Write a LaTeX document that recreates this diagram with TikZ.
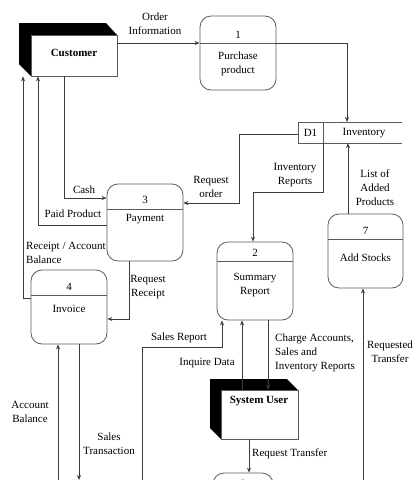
\documentclass[tikz,border=0pt]{standalone}
\usepackage{fontspec}
\setmainfont{Liberation Serif}
\usetikzlibrary{arrows.meta,calc}
\definecolor{linec}{HTML}{3C3C3C}
\definecolor{boxc}{HTML}{5A5A5A}
\begin{document}
\begin{tikzpicture}[x=1pt,y=-1pt,
  line/.style={draw=linec, line width=0.7pt},
  arr/.style={line, -{Stealth[length=5pt,width=4pt]}},
  proc/.style={draw=boxc, line width=0.8pt, rounded corners=11pt, inner sep=0pt},
  ent/.style={draw=boxc, line width=0.7pt, fill=white, inner sep=0pt},
  divline/.style={draw=boxc, line width=0.8pt},
  lbl/.style={font=\fontsize{11}{14}\selectfont, align=center, inner sep=0pt}]
\useasboundingbox (0,0) rectangle (414,480);

% ---------- external entities ----------
\fill[black] (19,23) -- (106,23) -- (117,35) -- (31,35) -- (31,76) -- (19,64) -- cycle;
\node[ent, minimum width=86pt, minimum height=41pt] (cust) at (74,55.5) {};
\node[lbl] (custt) at (74,53) {\textbf{Customer}};

\fill[black] (210,379) -- (287,379) -- (298,390) -- (221,390) -- (221,439) -- (210,428) -- cycle;
\node[ent, minimum width=77pt, minimum height=49pt] (user) at (259.5,414.5) {};
\node[lbl] (usert) at (259,401) {\textbf{System User}};

% ---------- processes ----------
\node[proc, minimum width=76pt, minimum height=74pt] (p1) at (238,53) {};
\draw[divline] (200,43) -- (276,43);
\node[lbl] (p1n) at (238,35) {1};
\node[lbl] (p1t) at (238,64) {Purchase\\product};

\node[proc, minimum width=76pt, minimum height=78pt] (p2) at (255,281) {};
\draw[divline] (217,261) -- (293,261);
\node[lbl] (p2n) at (255,253) {2};
\node[lbl] (p2t) at (255,285.5) {Summary\\Report};

\node[proc, minimum width=76pt, minimum height=77pt] (p3) at (145,222.5) {};
\draw[divline] (107,209) -- (183,209);
\node[lbl] (p3n) at (145,200) {3};
\node[lbl] (p3t) at (145,219) {Payment};

\node[proc, minimum width=76pt, minimum height=74pt] (p4) at (69,307) {};
\draw[divline] (31,295) -- (107,295);
\node[lbl] (p4n) at (69,287) {4};
\node[lbl] (p4t) at (69,309) {Invoice};

\node[proc, minimum width=75pt, minimum height=74pt] (p7) at (365.5,251) {};
\draw[divline] (328,239) -- (403,239);
\node[lbl] (p7n) at (365.5,231) {7};
\node[lbl] (p7t) at (365.5,258) {Add Stocks};

\begin{scope}
\clip (0,0) rectangle (414,480);
\node[proc, minimum width=60pt, minimum height=70pt] (p5) at (243,508) {};
\node[lbl] (p5n) at (243,484) {5};
\end{scope}

% ---------- data store ----------
\node[inner sep=0pt, minimum width=104pt, minimum height=21pt] (d1) at (350,132.5) {};
\draw[divline] (402,122) -- (298,122) -- (298,143) -- (402,143);
\draw[divline] (323,122) -- (323,143);
\node[lbl] (d1n) at (310.5,133) {D1};
\node[lbl] (d1t) at (364,133) {Inventory};

% ---------- coordinates ----------
\coordinate (y43) at (0,43);
\coordinate (d1top) at (347,122);
\coordinate (roBend) at (239,134);
\coordinate (irBend) at (323,192);
\coordinate (cashX) at (64,0);
\coordinate (paidX) at (38,0);
\coordinate (recX) at (23,0);
\coordinate (rrX) at (129,0);
\coordinate (abBot) at (58,480);
\coordinate (stBot) at (79,480);
\coordinate (srBot) at (142,480);
\coordinate (srBend) at (222,347);
\coordinate (rtBot) at (363,480);

% ---------- connectors ----------
\draw[arr] (cust.east |- y43) -- (p1.west |- y43);
\draw[arr] (p1.east |- y43) -| (d1top);
\draw[arr] (d1.west |- roBend) -- (roBend) |- (p3.east |- 0,203);
\draw[arr] (d1.south -| irBend) -- (irBend) -| (p2.north -| 253,0);
\draw[arr] (p7.north -| 348,0) -- (d1.south -| 348,0);

\draw[arr] (cust.south -| cashX) |- (p3.west |- 0,198);
\draw[arr] (p3.west |- 0,225) -| (cust.south -| paidX);
\draw[arr] (p4.west |- 0,298) -| (cust.south -| recX);
\draw[arr] (p3.south -| rrX) |- (p4.east |- 0,319);
\draw[arr] (abBot) -- (p4.south -| abBot);
\draw[arr] (p4.south -| stBot) -- (stBot);
\draw[arr] (srBot) |- (srBend) -- (p2.south -| srBend);
\draw[arr] (user.north -| 242,0) -- (p2.south -| 242,0);
\draw[arr] (p2.south -| 268,0) -- (user.north -| 268,0);
\draw[arr] (user.south -| 249,0) -- (p5.north -| 249,0);
\draw[arr] (rtBot) -- (p7.south -| rtBot);

% ---------- labels ----------
\node[lbl] (lOI) at (155,24) {Order\\Information};
\node[lbl] (lRO) at (211,187) {Request\\order};
\node[lbl] (lIR) at (295,175) {Inventory\\Reports};
\node[lbl] (lLA) at (375,188) {List of\\Added\\Products};
\node[lbl] (lCa) at (84,190) {Cash};
\node[lbl] (lPP) at (73,214) {Paid Product};
\node[lbl, anchor=west, align=left] (lRA) at (26,253) {Receipt / Account\\Balance};
\node[lbl] (lRR) at (148,287) {Request\\Receipt};
\node[lbl] (lAB) at (30,412) {Account\\Balance};
\node[lbl] (lST) at (109,444) {Sales\\Transaction};
\node[lbl] (lSR) at (179,338) {Sales Report};
\node[lbl] (lID) at (207,363) {Inquire Data};
\node[lbl, anchor=west, align=left] (lCA) at (275,353) {Charge Accounts,\\Sales and\\Inventory Reports};
\node[lbl, anchor=west] (lRT) at (252,454) {Request Transfer};
\node[lbl] (lRqT) at (390,351.5) {Requested\\Transfer};
\end{tikzpicture}
\end{document}
